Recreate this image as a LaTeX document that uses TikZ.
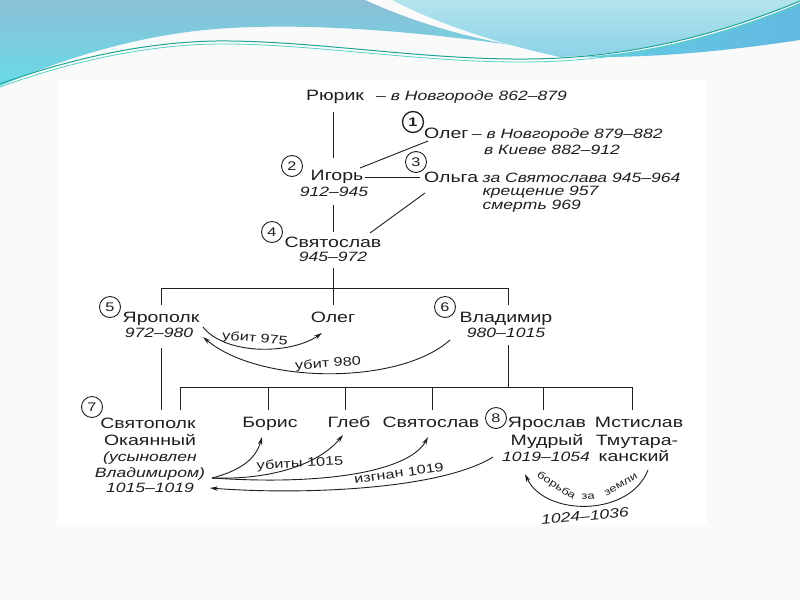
\documentclass[tikz,border=0pt]{standalone}
\usepackage{fontspec}
\setmainfont{Liberation Sans}[FakeStretch=1.3]
\usetikzlibrary{arrows.meta}
\definecolor{ink}{HTML}{1E1E1E}
\definecolor{bluetop}{HTML}{8BC0D6}
\definecolor{bluebot}{HTML}{68DAE8}
\definecolor{cyantop}{HTML}{B3E4EC}
\definecolor{cyanbot}{HTML}{8CD2E8}
\definecolor{bandblue}{HTML}{62B8E0}
\definecolor{tealA}{HTML}{1FA596}
\definecolor{tealB}{HTML}{55D3C3}
\newcommand\nmfont{\fontsize{15}{17}\selectfont}
\newcommand\dtfont{\fontsize{13.5}{15}\selectfont\itshape}
\newcommand\crfont{\fontsize{12.5}{12}\selectfont}
\newcommand\arcfont{\fontsize{10}{11}\selectfont}
\tikzset{
  nm/.style={font=\nmfont, inner sep=0pt, text=ink},
  dt/.style={font=\dtfont, inner sep=0pt, text=ink},
  lbl/.style={font=\fontsize{12.5}{13}\selectfont, inner sep=0pt, text=ink},
  arclbl/.style={font=\arcfont, inner sep=0pt, text=ink},
  num/.style={circle, draw=ink, line width=0.9pt, minimum size=21pt, inner sep=0pt, font=\crfont, text=ink},
  ln/.style={draw=ink, line width=0.9pt},
  arr/.style={ln, -{Stealth[length=8pt,width=4.5pt]}},
}
\begin{document}
\begin{tikzpicture}[x=1pt,y=-1pt]
\useasboundingbox (0,0) rectangle (800,600);
% slide background
\fill[black!2] (0,0) rectangle (800,600);
\fill[white] (57,80) rectangle (707,525);
% top wave
\shade[top color=bluetop, bottom color=bluebot]
  (0,0) -- (365,0) .. controls (420,25) and (480,42) .. (552,51)
  .. controls (430,32) and (320,23) .. (230,28)
  .. controls (140,33) and (60,60) .. (0,86) -- cycle;
\shade[top color=cyantop, bottom color=cyanbot]
  (392,0) -- (800,0) -- (800,2)
  .. controls (730,30) and (650,53) .. (560,57)
  .. controls (490,42) and (430,20) .. (392,0) -- cycle;
\shade[left color=bluebot!60!bandblue, right color=bandblue]
  (580,57) .. controls (660,53) and (740,28) .. (800,3) -- (800,40)
  .. controls (720,52) and (650,58) .. (580,57) -- cycle;
\draw[tealA, line width=1pt] (0,84) .. controls (80,55) and (160,40) .. (230,41)
  .. controls (330,42) and (450,64) .. (560,58) .. controls (650,53) and (730,30) .. (800,1);
\draw[tealB, line width=0.8pt] (0,87) .. controls (80,58) and (160,43) .. (230,44)
  .. controls (330,45) and (450,67) .. (560,61) .. controls (650,56) and (730,33) .. (800,5);

% ---------- Rurik / Oleg / Igor / Olga ----------
\node[nm, anchor=base] (rurik) at (335,100) {Рюрик};
\node[dt, anchor=base west] (rurikd) at (376,100) {– в Новгороде 862–879};
\node[num, line width=1.3pt, font=\crfont\bfseries] (c1) at (413,122) {1};
\node[nm, anchor=base west] (oleg1) at (424,138) {Олег};
\node[dt, anchor=base west] (oleg1d) at ([xshift=3pt]oleg1.base east) {– в Новгороде 879–882};
\node[dt, anchor=base west] (oleg1k) at (484,154) {в Киеве 882–912};
\node[num] (c2) at (292,166) {2};
\node[nm, anchor=base] (igor) at (337,180) {Игорь};
\node[dt, anchor=base] (igord) at (334,196) {912–945};
\node[num] (c3) at (416,162) {3};
\node[nm, anchor=base west] (olga) at (424,182) {Ольга};
\node[dt, anchor=base west] (olgad) at ([xshift=4pt]olga.base east) {за Святослава 945–964};
\node[dt, anchor=base west] (olgak) at (olgad.base west |- 0,195) {крещение 957};
\node[dt, anchor=base west] (olgas) at (olgad.base west |- 0,209) {смерть 969};
\node[num] (c4) at (272,232) {4};
\node[nm, anchor=base] (svyat) at (333,247) {Святослав};
\node[dt, anchor=base] (svyatd) at (333,261) {945–972};

\coordinate (r1) at (333,112); \coordinate (r2) at (333,158);
\coordinate (i1) at (333,205); \coordinate (i2) at (333,232);
\coordinate (o1) at (428,141); \coordinate (o2) at (360,168);
\coordinate (g1) at (365,177); \coordinate (g2) at (420,177);
\coordinate (l1) at (425,193); \coordinate (l2) at (370,233);
\draw[ln] (r1) -- (r2);
\draw[ln] (i1) -- (i2);
\draw[ln] (o1) -- (o2);
\draw[ln] (g1) -- (g2);
\draw[ln] (l1) -- (l2);

% ---------- sons of Svyatoslav ----------
\node[num] (c5) at (110,307) {5};
\node[nm, anchor=base] (yaropolk) at (161,322) {Ярополк};
\node[dt, anchor=base] (yaropolkd) at (159,337) {972–980};
\node[nm, anchor=base] (oleg2) at (333,322) {Олег};
\node[num] (c6) at (445,307) {6};
\node[nm, anchor=base] (vlad) at (506,322) {Владимир};
\node[dt, anchor=base] (vladd) at (506,337) {980–1015};

\coordinate (s1) at (333,268); \coordinate (s2) at (333,288);
\coordinate (bL) at (161,288); \coordinate (bR) at (508,288);
\coordinate (bLd) at (161,305); \coordinate (bMd) at (333,305); \coordinate (bRd) at (508,305);
\draw[ln] (s1) -- (s2);
\draw[ln] (bLd) -- (bL) -- (bR) -- (bRd);
\draw[ln] (s2) -- (bMd);

% ---------- sons of Vladimir ----------
\node[num] (c7) at (92,407) {7};
\node[nm, anchor=base] (svpk) at (148,428) {Святополк};
\node[nm, anchor=base] (svpk2) at (150,445) {Окаянный};
\node[dt, anchor=base] (svpk3) at (150,461) {(усыновлен};
\node[dt, anchor=base] (svpk4) at (150,477) {Владимиром)};
\node[dt, anchor=base] (svpk5) at (150,492) {1015–1019};
\node[nm, anchor=base] (boris) at (270,427) {Борис};
\node[nm, anchor=base] (gleb) at (349,427) {Глеб};
\node[nm, anchor=base] (svyat2) at (431,427) {Святослав};
\node[num] (c8) at (496,418) {8};
\node[nm, anchor=base] (yaros) at (547,427) {Ярослав};
\node[nm, anchor=base] (yaros2) at (547,445) {Мудрый};
\node[dt, anchor=base] (yaros3) at (546,461) {1019–1054};
\node[nm, anchor=base] (mst) at (639,427) {Мстислав};
\node[nm, anchor=base] (mst2) at (637,445) {Тмутара-};
\node[nm, anchor=base] (mst3) at (634,461) {канский};

\coordinate (y1) at (161,348); \coordinate (y2) at (161,410);
\coordinate (w1) at (508,345); \coordinate (w2) at (508,387);
\coordinate (dA) at (180,387); \coordinate (dF) at (632,387);
\draw[ln] (y1) -- (y2);
\draw[ln] (w1) -- (w2);
\draw[ln] (180,410) -- (dA) -- (dF) -- (632,410);
\foreach \x/\n in {268/b,345/g,432/s,543/y} {
  \coordinate (t\n) at (\x,387);
  \draw[ln] (t\n) -- (\x,410);
}

% ---------- arcs ----------
\coordinate (a975s) at (203,327); \coordinate (a975e) at (322,333);
\draw[arr] (a975s) .. controls (225,355) and (290,355) .. (a975e);
\node[lbl, rotate=-5] (l975) at (255,339) {убит 975};

\coordinate (a980s) at (450,340); \coordinate (a980e) at (203,337);
\draw[arr] (a980s) .. controls (400,385) and (260,385) .. (a980e);
\node[lbl, rotate=4] (l980) at (328,364) {убит 980};

\coordinate (fan) at (212,478);
\coordinate (tb) at (262,437); \coordinate (tg) at (343,435); \coordinate (ts) at (428,437);
\draw[arr] (fan) .. controls (235,472) and (255,462) .. (tb);
\draw[arr] (fan) .. controls (270,480) and (318,465) .. (tg);
\draw[arr] (fan) .. controls (330,486) and (410,470) .. (ts);
\node[lbl, rotate=3] (l1015) at (300,464) {убиты 1015};

\coordinate (izs) at (493,457); \coordinate (ize) at (210,488);
\draw[arr] (izs) .. controls (440,490) and (300,495) .. (ize);
\node[lbl, rotate=8] (l1019) at (399,473) {изгнан 1019};

\coordinate (bzs) at (648,470); \coordinate (bze) at (525,474);
\draw[arr] (bzs) .. controls (630,517) and (545,517) .. (bze);
\node[arclbl, rotate=-32] (bz1) at (556,486) {борьба};
\node[arclbl, rotate=3] (bz2) at (588,497) {за};
\node[arclbl, rotate=30] (bz3) at (621,485) {земли};
\node[dt, rotate=5] (l1024) at (585,516) {1024–1036};
\end{tikzpicture}
\end{document}
